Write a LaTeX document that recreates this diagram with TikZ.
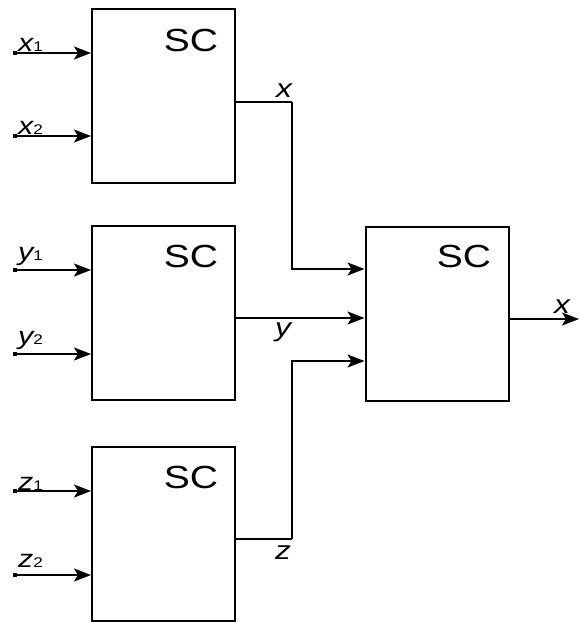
\documentclass[tikz,border=0pt]{standalone}
\usepackage{fontspec}
\setmainfont{Liberation Sans}[FakeStretch=1.22]
\usetikzlibrary{arrows.meta}
\begin{document}
\begin{tikzpicture}[x=1pt,y=-1pt,
  blk/.style={draw, line width=2pt, minimum width=143pt, minimum height=174pt, inner sep=0pt},
  wire/.style={line width=1.9pt},
  arr/.style={line width=1.9pt, -{Stealth[length=17pt,width=13pt,inset=4pt]}},
  term/.style={fill, rectangle, minimum size=4pt, inner sep=0pt},
  sclab/.style={font=\fontsize{32}{32}\selectfont, inner sep=0pt, anchor=base},
  inlab/.style={font=\fontsize{25}{25}\selectfont, inner sep=0pt, anchor=base west},
  outlab/.style={font=\fontsize{26}{26}\selectfont\itshape, inner sep=0pt, anchor=base}]
\useasboundingbox (0,0) rectangle (579,622);
% blocks
\node[blk] (b1) at (163.5,96) {};
\node[blk] (b2) at (163.5,312.5) {};
\node[blk] (b3) at (163.5,533.5) {};
\node[blk] (br) at (437,313.5) {};
\node[sclab] (s1) at (191,51) {SC};
\node[sclab] (s2) at (191,267) {SC};
\node[sclab] (s3) at (191,488) {SC};
\node[sclab] (sr) at (464,267) {SC};
% input terminals
\node[term] (i1) at (15,53) {};
\node[term] (i2) at (15,136) {};
\node[term] (i3) at (15,270) {};
\node[term] (i4) at (15,354) {};
\node[term] (i5) at (15,491) {};
\node[term] (i6) at (15,575) {};
\draw[arr] (i1.center) -- (i1 -| b1.west);
\draw[arr] (i2.center) -- (i2 -| b1.west);
\draw[arr] (i3.center) -- (i3 -| b2.west);
\draw[arr] (i4.center) -- (i4 -| b2.west);
\draw[arr] (i5.center) -- (i5 -| b3.west);
\draw[arr] (i6.center) -- (i6 -| b3.west);
% input labels
\node[inlab] (l1) at (18,51) {\itshape x\fontsize{14}{14}\selectfont\upshape 1};
\node[inlab] (l2) at (18,134) {\itshape x\fontsize{14}{14}\selectfont\upshape 2};
\node[inlab] (l3) at (18,260) {\itshape y\fontsize{14}{14}\selectfont\upshape 1};
\node[inlab] (l4) at (18,344) {\itshape y\fontsize{14}{14}\selectfont\upshape 2};
\node[inlab] (l5) at (18,490) {\itshape z\fontsize{14}{14}\selectfont\upshape 1};
\node[inlab] (l6) at (18,567) {\itshape z\fontsize{14}{14}\selectfont\upshape 2};
% internal connections
\coordinate (k1) at (292,102);
\coordinate (k3) at (292,539);
\coordinate (r1) at (366,269);
\coordinate (r2) at (366,318);
\coordinate (r3) at (366,361);
\draw[wire] (k1 -| b1.east) -- (k1);
\draw[arr] (k1) -- (k1 |- r1) -- (r1 -| br.west);
\draw[arr] (r2 -| b2.east) -- (r2 -| br.west);
\draw[wire] (k3 -| b3.east) -- (k3);
\draw[arr] (k3) -- (k3 |- r3) -- (r3 -| br.west);
\coordinate (oe) at (579,319);
\draw[arr] (oe -| br.east) -- (oe);
% output labels
\node[outlab] (lx) at (284,97) {x};
\node[outlab] (ly) at (283,336) {y};
\node[outlab] (lz) at (283,559) {z};
\node[outlab] (lo) at (562,313) {x};
\end{tikzpicture}
\end{document}
